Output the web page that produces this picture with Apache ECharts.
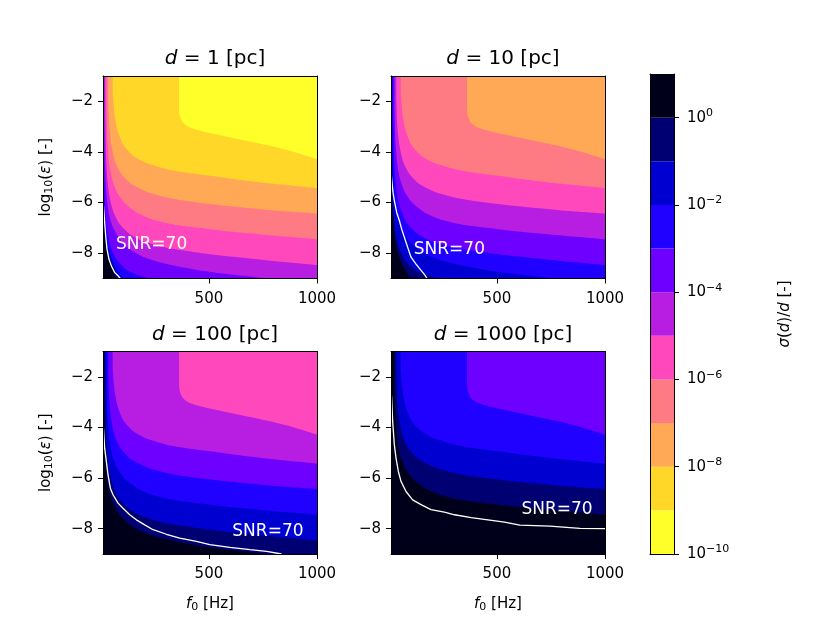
<!DOCTYPE html>
<html>
<head>
<meta charset="utf-8">
<script src="https://cdn.jsdelivr.net/npm/echarts@6/dist/echarts.min.js"></script>
<style>
html,body{margin:0;padding:0;background:#fff}
#chart{width:830px;height:623px}
</style>
</head>
<body>
<div id="chart"></div>
<script>
// sigma(d)/d over (f0, log10 eps), one panel per distance
var distances = [1, 10, 100, 1000];
var levelShift = [0, 2, 4, 6];          // decades the colours move per panel
var f0Ticks = [500, 1000];
var epsTicks = [-8, -6, -4, -2];
var cbTicks = [-10, -8, -6, -4, -2, 0];
var cbLevels = [-10, -9, -8, -7, -6, -5, -4, -3, -2, -1, 0, 1];
var bandColors = ['#ffff29', '#ffd728', '#ffa956', '#ff7b84', '#ff48bb', '#b71ee1',
                  '#6e00ff', '#2000ff', '#0000d0', '#000072', '#00001a'];

var curveLevels = [-9, -8, -7, -6, -5, -4, -3, -2, -1, 0];
var boundaryM9 = [[10,-1],[362,-1],[362,-2.3],[367,-2.63],[381,-2.86],[404,-3.0],[443,-3.12],[504,-3.25],[612,-3.45],[767,-3.73],[890,-3.99],[1000,-4.28]];
var boundaryM8 = [[10,-1],[53,-1],[56,-1.78],[64,-2.57],[80,-3.23],[106,-3.75],[149,-4.15],[211,-4.44],[304,-4.68],[412,-4.84],[504,-4.94],[643,-5.1],[798,-5.26],[1000,-5.43]];
var boundaryM7 = [[10,-1],[33,-1],[35,-2.04],[39,-2.96],[49,-3.75],[67,-4.41],[95,-4.87],[141,-5.27],[211,-5.57],[304,-5.8],[412,-5.96],[504,-6.06],[643,-6.19],[798,-6.31],[1000,-6.43]];
var boundaryM6 = [[10,-1],[25,-1],[27,-2.44],[30,-3.49],[38,-4.41],[52,-5.07],[75,-5.6],[110,-6.02],[165,-6.39],[242,-6.68],[350,-6.89],[504,-7.05],[643,-7.18],[798,-7.3],[1000,-7.45]];
var boundaryM5 = [[10,-1],[19,-1],[21,-2.83],[24,-4.15],[30,-5.07],[41,-5.8],[59,-6.39],[87,-6.85],[134,-7.25],[203,-7.55],[304,-7.79],[427,-7.95],[504,-8.04],[643,-8.17],[798,-8.31],[1000,-8.47]];
var boundaryM4 = [[10,-1],[14.6,-1],[16,-3.1],[19,-4.55],[25,-5.6],[36,-6.39],[56,-6.98],[87,-7.45],[134,-7.84],[203,-8.17],[304,-8.43],[427,-8.63],[551,-8.79],[690,-8.92],[767,-9]];
var boundaryM3 = [[10,-1],[12.3,-1],[13.1,-3.49],[15.4,-5.2],[20.8,-6.39],[30,-7.18],[45.5,-7.77],[72,-8.24],[110,-8.6],[165,-8.85],[226,-9]];
var boundaryM2 = [[10,-1],[10.8,-1],[11.5,-4.15],[13.9,-5.86],[19.3,-6.65],[28.5,-7.45],[41,-7.97],[64,-8.5],[87,-8.83],[106,-9]];
var boundaryM1 = [[10,-1],[10.5,-1],[11.5,-5.0],[14,-6.3],[19.3,-7.0],[28.5,-7.7],[41,-8.17],[64,-8.65],[80,-8.88],[90,-9]];
var boundary0 = [[10,-1],[10.3,-1],[11.5,-5.86],[14.6,-6.65],[19.3,-7.31],[28.5,-7.97],[41,-8.37],[56,-8.7],[72,-9]];
var curves = [boundaryM9, boundaryM8, boundaryM7, boundaryM6, boundaryM5,
              boundaryM4, boundaryM3, boundaryM2, boundaryM1, boundary0];

// SNR = 70 lines, one per panel
var snrD1 = [[10.5,-5.9],[11.5,-6.06],[14.6,-6.39],[17.7,-6.79],[22.4,-7.31],[28.5,-7.84],[37.8,-8.24],[48.6,-8.5],[64,-8.76],[79.5,-8.89],[90,-9]];
var snrD10 = [[10.5,-4.8],[13.1,-5.07],[19.3,-5.6],[25.4,-5.92],[36.3,-6.39],[48.6,-6.71],[59.4,-7.05],[71.8,-7.37],[87.2,-7.77],[102.7,-8.16],[125.8,-8.43],[149,-8.68],[164.5,-8.84],[176.8,-9]];
var snrD100 = [[10.5,-3.9],[13.1,-4.16],[17.7,-4.82],[25.4,-5.34],[33.2,-5.87],[44,-6.4],[56.3,-6.66],[79.5,-6.99],[102.7,-7.19],[133.6,-7.45],[164.5,-7.65],[203,-7.85],[241.7,-8.04],[303.5,-8.22],[365,-8.37],[442,-8.5],[504,-8.63],[597,-8.74],[690,-8.83],[767,-8.9],[836,-9]];
var snrD1000 = [[10.5,-2.6],[13.1,-2.84],[17.7,-3.76],[25.4,-4.68],[33.2,-5.21],[44,-5.74],[56.3,-6.13],[79.5,-6.53],[110,-6.86],[149,-7.05],[195,-7.25],[257,-7.35],[304,-7.45],[381,-7.56],[458,-7.65],[535,-7.74],[606,-7.86],[745,-7.9],[884,-7.99],[1000,-8.0]];
var snrLines = [snrD1, snrD10, snrD100, snrD1000];
var snrLabelPos = [[235,-7.67],[280,-7.86],[773,-8.1],[778,-7.24]];

var FONT = 'DejaVu Sans';
var panelBox = [[103,76],[391,76],[103,351.5],[391,351.5]];
var PW = 214, PH = 202.5;

function minus(v) { return String(v).replace('-', '\u2212'); }

var grids = [], xAxes = [], yAxes = [], series = [], titles = [];

panelBox.forEach(function (box, i) {
  var s = levelShift[i];
  grids.push({
    left: box[0], top: box[1], width: PW, height: PH,
    show: true, backgroundColor: bandColors[s], borderWidth: 0
  });
  titles.push({
    text: '{i|d} = ' + distances[i] + ' [pc]',
    left: box[0] + PW / 2, top: box[1] - 32, textAlign: 'center',
    textStyle: {
      fontFamily: FONT, fontSize: 20, fontWeight: 'normal', color: '#000',
      rich: { i: { fontFamily: FONT, fontSize: 20, fontStyle: 'italic', color: '#000' } }
    }
  });
  var bottomRow = i >= 2, leftCol = i % 2 === 0;
  xAxes.push({
    type: 'value', gridIndex: i, min: 10, max: 1000, z: 10,
    axisLine: { show: true, onZero: false, lineStyle: { color: '#000', width: 1 } },
    axisTick: { show: true, customValues: f0Ticks, length: 5, lineStyle: { color: '#000' } },
    axisLabel: { customValues: f0Ticks, color: '#000', fontSize: 15, fontFamily: FONT, margin: 13,
                 formatter: function (v) { return String(v); } },
    splitLine: { show: false },
    name: bottomRow ? '{i|f}{sub|0} [Hz]' : '',
    nameLocation: 'middle', nameGap: 42,
    nameTextStyle: {
      color: '#000', fontSize: 15, fontFamily: FONT,
      rich: {
        i: { fontSize: 15, fontStyle: 'italic', fontFamily: FONT, color: '#000' },
        sub: { fontSize: 11, fontFamily: FONT, color: '#000', verticalAlign: 'bottom', padding: [6, 0, 0, 0] }
      }
    }
  });
  xAxes.push({
    type: 'value', gridIndex: i, position: 'top', min: 10, max: 1000, z: 10,
    axisLine: { show: true, onZero: false, lineStyle: { color: '#000', width: 1 } },
    axisTick: { show: false }, axisLabel: { show: false }, splitLine: { show: false }
  });
  yAxes.push({
    type: 'value', gridIndex: i, min: -9, max: -1, z: 10,
    axisLine: { show: true, onZero: false, lineStyle: { color: '#000', width: 1 } },
    axisTick: { show: true, customValues: epsTicks, length: 5, lineStyle: { color: '#000' } },
    axisLabel: { customValues: epsTicks, color: '#000', fontSize: 15, fontFamily: FONT, margin: 10, formatter: minus },
    splitLine: { show: false },
    name: leftCol ? 'log{sub|10}({i|\u03b5}) [-]' : '',
    nameLocation: 'middle', nameRotate: 90, nameGap: 48,
    nameTextStyle: {
      color: '#000', fontSize: 15, fontFamily: FONT,
      rich: {
        i: { fontSize: 15, fontStyle: 'italic', fontFamily: FONT, color: '#000' },
        sub: { fontSize: 11, fontFamily: FONT, color: '#000', verticalAlign: 'bottom', padding: [6, 0, 0, 0] }
      }
    }
  });
  yAxes.push({
    type: 'value', gridIndex: i, position: 'right', min: -9, max: -1, z: 10,
    axisLine: { show: true, onZero: false, lineStyle: { color: '#000', width: 1 } },
    axisTick: { show: false }, axisLabel: { show: false }, splitLine: { show: false }
  });

  // filled bands: each boundary paints the higher band below it
  curves.forEach(function (c, j) {
    var lev = curveLevels[j] + s;
    if (lev > 0) return;
    series.push({
      type: 'line', xAxisIndex: 2 * i, yAxisIndex: 2 * i,
      data: c, symbol: 'none', silent: true, z: 2,
      smooth: 0.2,
      lineStyle: { width: 0 },
      areaStyle: { color: bandColors[lev + 10], opacity: 1, origin: 'start' }
    });
  });
  series.push({
    type: 'line', xAxisIndex: 2 * i, yAxisIndex: 2 * i,
    data: snrLines[i], symbol: 'none', silent: true, z: 4,
    lineStyle: { color: '#ffffff', width: 1.3 },
    markPoint: {
      silent: true, symbol: 'circle', symbolSize: 0,
      itemStyle: { color: '#ffffff' },
      data: [{ coord: snrLabelPos[i] }],
      label: {
        show: true, position: 'inside', formatter: 'SNR=70',
        color: '#ffffff', opacity: 1, textBorderWidth: 0,
        fontSize: 17, fontFamily: FONT
      }
    }
  });
});

// colour bar
grids.push({ left: 650, top: 74, width: 24, height: 480 });
xAxes.push({
  type: 'value', gridIndex: 4, min: 0, max: 1, z: 10,
  axisLine: { show: true, onZero: false, lineStyle: { color: '#000' } },
  axisTick: { show: false }, axisLabel: { show: false }, splitLine: { show: false }
});
xAxes.push({
  type: 'value', gridIndex: 4, position: 'top', min: 0, max: 1, z: 10,
  axisLine: { show: true, onZero: false, lineStyle: { color: '#000' } },
  axisTick: { show: false }, axisLabel: { show: false }, splitLine: { show: false }
});
yAxes.push({
  type: 'value', gridIndex: 4, position: 'right', min: -10, max: 1, z: 10,
  axisLine: { show: true, onZero: false, lineStyle: { color: '#000' } },
  axisTick: { show: true, customValues: cbTicks, length: 5, lineStyle: { color: '#000' } },
  axisLabel: {
    customValues: cbTicks, color: '#000', fontSize: 15, fontFamily: FONT, margin: 13,
    formatter: function (v) { return '10{sup|' + minus(v) + '}'; },
    rich: { sup: { fontSize: 11, fontFamily: FONT, color: '#000', verticalAlign: 'top', padding: [0, 0, 9, 0] } }
  },
  splitLine: { show: false },
  name: '{i|\u03c3}({i|d})/{i|d} [-]',
  nameLocation: 'middle', nameRotate: 90, nameGap: 104,
  nameTextStyle: {
    color: '#000', fontSize: 15, fontFamily: FONT,
    rich: { i: { fontSize: 15, fontStyle: 'italic', fontFamily: FONT, color: '#000' } }
  }
});
yAxes.push({
  type: 'value', gridIndex: 4, position: 'left', min: -10, max: 1, z: 10,
  axisLine: { show: true, onZero: false, lineStyle: { color: '#000' } },
  axisTick: { show: false }, axisLabel: { show: false }, splitLine: { show: false }
});
series.push({
  type: 'line', xAxisIndex: 8, yAxisIndex: 8, data: [], silent: true,
  markArea: {
    silent: true,
    data: bandColors.map(function (col, b) {
      return [{ yAxis: cbLevels[b], itemStyle: { color: col, opacity: 1 } }, { yAxis: cbLevels[b + 1] }];
    })
  }
});

var chart = echarts.init(document.getElementById('chart'));
chart.setOption({
  animation: false,
  backgroundColor: '#fff',
  title: titles,
  grid: grids,
  xAxis: xAxes,
  yAxis: yAxes,
  series: series
});
</script>
</body>
</html>
